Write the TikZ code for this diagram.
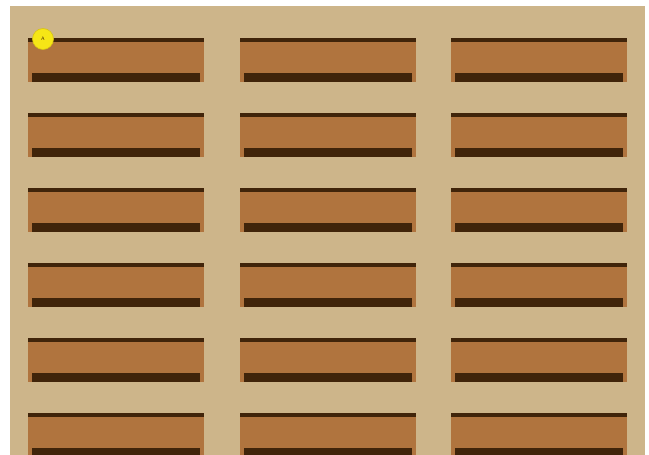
\documentclass[tikz,border=0pt]{standalone}
\usepackage{tikz}
\definecolor{floor}{RGB}{205,181,138}
\definecolor{deskbody}{RGB}{176,116,62}
\definecolor{deskdark}{RGB}{64,36,10}
\definecolor{seat}{RGB}{246,230,22}
\definecolor{seatedge}{RGB}{215,195,20}
\tikzset{
  deskbox/.style={fill=deskbody, draw=none},
  deskbar/.style={fill=deskdark, draw=none},
  seatnode/.style={circle, fill=seat, draw=seatedge, line width=0.6pt, minimum size=21pt, inner sep=0pt, font=\fontsize{5}{5}\selectfont\sffamily, text=deskdark}
}
\begin{document}
\begin{tikzpicture}[x=1pt,y=-1pt]
\useasboundingbox (0,0) rectangle (649,455);
\fill[white] (0,0) rectangle (649,455);
\begin{scope}
\clip (0,0) rectangle (649,455);
\fill[floor] (10,6) rectangle (645,455);
\foreach \r in {0,...,5}{
  \foreach \c in {0,1,2}{
    \pgfmathsetmacro{\xo}{28+\c*211.7}
    \pgfmathsetmacro{\yo}{38+\r*75}
    \fill[deskbox] (\xo,\yo+4) rectangle (\xo+176,\yo+43.5);
    \fill[deskbar] (\xo,\yo) rectangle (\xo+176,\yo+4.2);
    \fill[deskbar] (\xo+4,\yo+35) rectangle (\xo+172,\yo+43.5);
  }
}
\end{scope}
\node[seatnode] (seatA) at (43,39) {A};
\end{tikzpicture}
\end{document}
